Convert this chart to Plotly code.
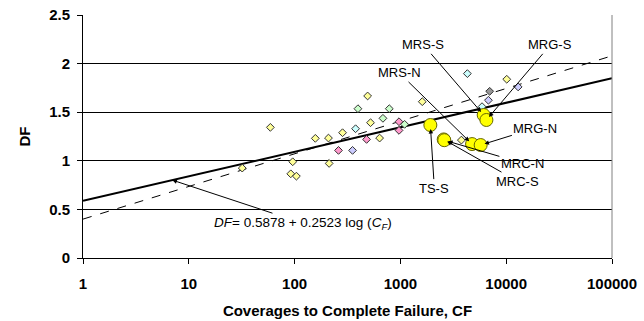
import numpy as np
import plotly.graph_objects as go

# ---- data ----
yellow_cf = [59, 490, 522, 284, 636, 209, 157, 96, 212, 92, 104, 32, 1610, 10120, 3770]
yellow_df = [1.344, 1.667, 1.392, 1.289, 1.234, 1.234, 1.231, 0.99, 0.973, 0.866, 0.842, 0.925, 1.608, 1.839, 1.213]
green_cf = [397, 785, 684, 1096]
green_df = [1.536, 1.536, 1.437, 1.375]
pink_cf = [970, 970, 479, 260]
pink_df = [1.402, 1.313, 1.220, 1.107]
cyan_cf = [377, 4295, 5910]
cyan_df = [1.330, 1.897, 1.557]
lav_cf = [353, 12970, 6790]
lav_df = [1.107, 1.760, 1.623]
gray_cf = [6980]
gray_df = [1.715]

big_names = ["TS-S", "MRC-S", "MRC-N", "MRS-N", "MRG-N", "MRS-S", "MRG-S"]
big_cf = [1919, 2566, 2600, 4756, 5737, 6125, 6500]
big_df = [1.368, 1.220, 1.212, 1.172, 1.162, 1.471, 1.420]

fit_a, fit_b = 0.5878, 0.2523     # solid fit line
dash_a, dash_b = 0.40, 0.336      # dashed line
x_tickvals = [1, 10, 100, 1000, 10000, 100000]
x_ticktext = ["1", "10", "100", "1000", "10000", "100000"]
y_tickvals = [0, 0.5, 1, 1.5, 2, 2.5]
y_ticktext = ["0", "0.5", "1", "1.5", "2", "2.5"]

# label text positions (log10 CF, DF) - layout only
label_pos = {
    "MRS-S": (3.217, 2.193), "MRG-S": (4.418, 2.193), "MRS-N": (2.99, 1.904),
    "MRG-N": (4.276, 1.337), "MRC-N": (4.153, 0.976), "MRC-S": (4.106, 0.791),
    "TS-S": (3.321, 0.719),
}

FONT = "Liberation Sans, Arial, sans-serif"
fig = go.Figure()

xl = np.array([1, 100000])
fig.add_trace(go.Scatter(x=xl, y=dash_a + dash_b * np.log10(xl), mode="lines",
                         line=dict(color="black", width=1, dash="dash"), showlegend=False))
fig.add_trace(go.Scatter(x=xl, y=fit_a + fit_b * np.log10(xl), mode="lines",
                         line=dict(color="black", width=2), showlegend=False))

for cf, df, col in [(yellow_cf, yellow_df, "#ffff99"), (green_cf, green_df, "#ccffcc"),
                    (pink_cf, pink_df, "#ff99cc"), (cyan_cf, cyan_df, "#ccffff"),
                    (lav_cf, lav_df, "#ccccff"), (gray_cf, gray_df, "#969696")]:
    fig.add_trace(go.Scatter(x=cf, y=df, mode="markers",
                             marker=dict(symbol="diamond", size=6, color=col,
                                         line=dict(color="#333333", width=1)),
                             showlegend=False))

fig.add_trace(go.Scatter(x=big_cf, y=big_df, mode="markers",
                         marker=dict(symbol="circle", size=13, color="#ffff00",
                                     line=dict(color="#666600", width=1)),
                         showlegend=False))

for name, cf, df in zip(big_names, big_cf, big_df):
    tx, ty = label_pos[name]
    fig.add_annotation(x=np.log10(cf), y=df, ax=tx, ay=ty, axref="x", ayref="y",
                       text=name, showarrow=True, arrowhead=2, arrowsize=0.9,
                       arrowwidth=1, arrowcolor="black", standoff=4,
                       font=dict(family=FONT, size=13, color="black"))

# equation annotation
x_eq = 7.0
fig.add_annotation(x=np.log10(x_eq), y=fit_a + fit_b * np.log10(x_eq), ax=2.077, ay=0.358,
                   axref="x", ayref="y",
                   text="<i>DF</i>= 0.5878 + 0.2523 log (<i>C</i><sub><i>F</i></sub>)",
                   showarrow=True, arrowhead=2, arrowsize=0.9, arrowwidth=1,
                   arrowcolor="black", font=dict(family=FONT, size=13.5, color="black"))

fig.add_shape(type="line", xref="x domain", yref="y domain", x0=1, x1=1, y0=0, y1=1,
              line=dict(color="#808080", width=1))

fig.update_layout(
    width=644, height=321, margin=dict(l=83, r=32, t=15, b=63, autoexpand=False),
    plot_bgcolor="white", paper_bgcolor="white", showlegend=False,
    font=dict(family=FONT, color="black"),
)
fig.update_xaxes(type="log", range=[0, 5], tickvals=x_tickvals, ticktext=x_ticktext,
                 showgrid=False, showline=True, linecolor="black", linewidth=1,
                 ticks="outside", ticklen=5, tickcolor="black", zeroline=False,
                 automargin=False,
                 tickfont=dict(family=FONT, size=15, weight="bold"), ticklabelstandoff=7,
                 title=dict(text="Coverages to Complete Failure, CF",
                            font=dict(family=FONT, size=15, weight="bold"), standoff=14))
fig.update_yaxes(range=[0, 2.5], tickvals=y_tickvals, ticktext=y_ticktext,
                 showgrid=True, gridcolor="black", gridwidth=1,
                 showline=True, linecolor="black", linewidth=1, zeroline=False,
                 automargin=False,
                 ticks="outside", ticklen=5, tickcolor="black",
                 tickfont=dict(family=FONT, size=15, weight="bold"), ticklabelstandoff=4,
                 title=dict(text="DF", font=dict(family=FONT, size=15, weight="bold"),
                            standoff=14))

fig.write_html("out.html")
